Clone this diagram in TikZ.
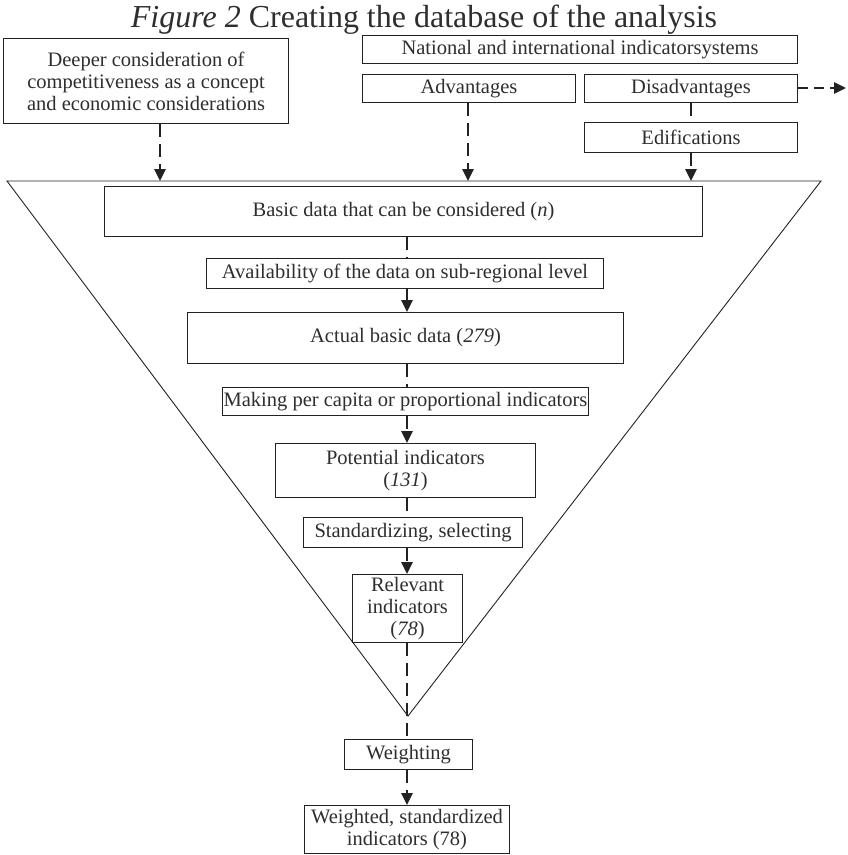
\documentclass[tikz,border=0pt]{standalone}
\usepackage{fontspec}
\setmainfont{Liberation Serif}
\usetikzlibrary{arrows.meta}
\definecolor{ink}{HTML}{222222}
\definecolor{txt}{HTML}{2E2E2E}
\tikzset{
  box/.style={draw=ink, line width=1pt, inner sep=0pt, align=center, text=txt,
    font=\fontsize{20.5}{22}\selectfont, anchor=north west},
  dline/.style={draw=ink, line width=2.6pt, dash pattern=on 13pt off 7pt},
  darrow/.style={dline, -{Triangle[length=12pt,width=11pt]}},
  thinline/.style={draw=ink, line width=0.9pt},
}
\begin{document}
\begin{tikzpicture}[x=1pt,y=-1pt]
\useasboundingbox (0,0) rectangle (848,855);
% title
\node[anchor=base, text=txt, font=\fontsize{32}{34}\selectfont, inner sep=0pt] (title) at (424,27)
  {\textit{Figure 2} Creating the database of the analysis};
% top boxes
\node[box, minimum width=285pt, minimum height=85pt] (deeper) at (3,38)
  {Deeper consideration of\\competitiveness as a concept\\and economic considerations};
\node[box, minimum width=435pt, minimum height=28pt] (natl) at (362,35)
  {National and international indicatorsystems};
\node[box, minimum width=213pt, minimum height=28pt] (adv) at (362,74) {Advantages};
\node[box, minimum width=213pt, minimum height=28pt] (dis) at (584,74) {Disadvantages};
\node[box, minimum width=213pt, minimum height=30pt] (edi) at (584,122) {Edifications};
% funnel
\draw[thinline] (7,181) -- (821,181) -- (408,716) -- cycle;
\coordinate (t1) at (160,181);
\coordinate (t2) at (468,181);
\coordinate (t3) at (691,181);
\coordinate (out) at (846,88);
% chain boxes
\node[box, minimum width=598pt, minimum height=50pt] (basic) at (104,186)
  {Basic data that can be considered (\textit{n})};
\node[box, minimum width=397pt, minimum height=30pt] (avail) at (206,258)
  {Availability of the data on sub-regional level};
\node[box, minimum width=436pt, minimum height=51pt] (actual) at (187,312)
  {Actual basic data (\textit{279})};
\node[box, minimum width=366pt, minimum height=28pt] (making) at (222,387)
  {Making per capita or proportional indicators};
\node[box, minimum width=260pt, minimum height=54pt] (pot) at (275,443)
  {Potential indicators\\(\textit{131})};
\node[box, minimum width=219pt, minimum height=30pt] (std) at (303,517)
  {Standardizing, selecting};
\node[box, minimum width=110pt, minimum height=68pt] (rel) at (352,574)
  {Relevant\\indicators\\(\textit{78})};
\node[box, minimum width=128pt, minimum height=30pt] (wgt) at (344,739)
  {Weighting};
\node[box, minimum width=205pt, minimum height=48pt] (fin) at (304,805)
  {Weighted, standardized\\indicators (78)};
% connectors into funnel
\draw[darrow] (deeper.south -| t1) -- (t1);
\draw[darrow] (adv.south -| t2) -- (t2);
\draw[dline] (dis.south -| t3) -- (edi.north -| t3);
\draw[darrow] (edi.south -| t3) -- (t3);
\draw[draw=ink, line width=2.6pt, dash pattern=on 10pt off 6pt, -{Triangle[length=12pt,width=11pt]}] (dis.east |- out) -- (out);
% main chain
\coordinate (ax) at (407,0);
\draw[dline] (basic.south -| ax) -- (avail.north -| ax);
\draw[darrow] (avail.south -| ax) -- (actual.north -| ax);
\draw[dline] (actual.south -| ax) -- (making.north -| ax);
\draw[darrow] (making.south -| ax) -- (pot.north -| ax);
\draw[dline] (pot.south -| ax) -- (std.north -| ax);
\draw[darrow] (std.south -| ax) -- (rel.north -| ax);
\draw[dline] (rel.south -| ax) -- (wgt.north -| ax);
\draw[darrow] (wgt.south -| ax) -- (fin.north -| ax);
\end{tikzpicture}
\end{document}
